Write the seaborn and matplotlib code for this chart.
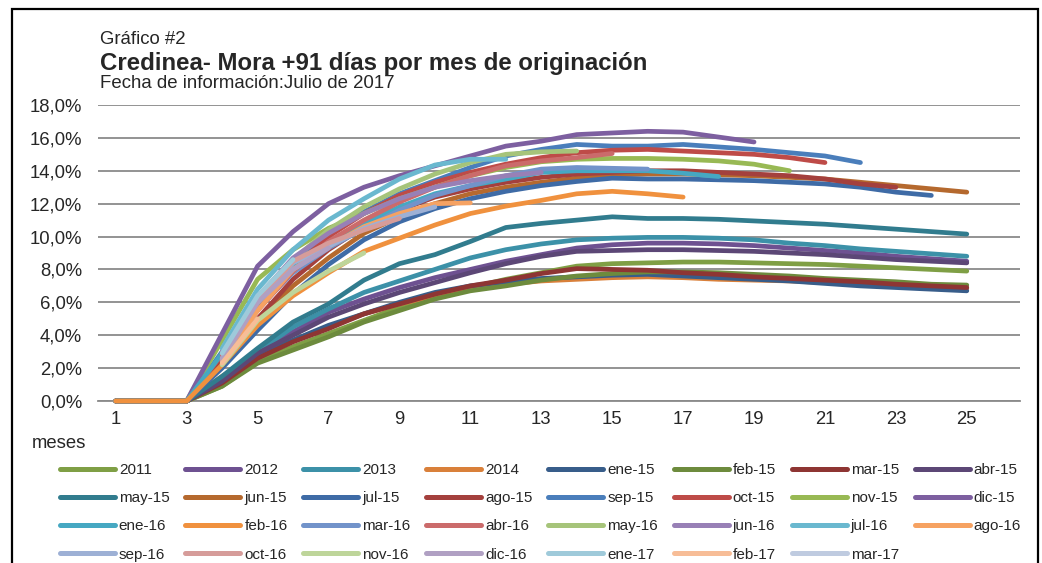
import pandas as pd
import matplotlib
matplotlib.use("Agg")
import matplotlib.pyplot as plt
from matplotlib.lines import Line2D
from matplotlib.patches import Rectangle
from matplotlib.ticker import FuncFormatter
import seaborn as sns

# meses desde la originacion (1..25)
months = list(range(1, 26))
z = [0, 0, 0]
na = [None, None, None]

# mora +91 dias (%) por cohorte
s2011 = z + [0.9, 2.4, 3.3, 4.1, 4.9, 5.7, 6.4, 6.9, 7.4, 7.8, 8.2, 8.35, 8.4, 8.45, 8.45, 8.4, 8.35, 8.3, 8.2, 8.1, 8.0, 7.9]
s2012 = z + [1.3, 3.0, 4.2, 5.4, 6.2, 6.9, 7.5, 8.0, 8.5, 8.9, 9.3, 9.5, 9.6, 9.6, 9.55, 9.45, 9.3, 9.15, 9.0, 8.8, 8.65, 8.5]
s2013 = z + [1.4, 3.0, 4.5, 5.6, 6.6, 7.3, 8.0, 8.7, 9.2, 9.55, 9.8, 9.9, 9.95, 9.95, 9.9, 9.8, 9.6, 9.45, 9.25, 9.1, 8.95, 8.8]
s2014 = z + [1.5, 2.8, 3.7, 4.5, 5.3, 5.9, 6.4, 6.8, 7.1, 7.3, 7.4, 7.5, 7.55, 7.5, 7.4, 7.35, 7.3, 7.2, 7.1, 7.0, 6.9, 6.85]
ene15 = z + [1.2, 2.7, 3.7, 4.6, 5.3, 6.0, 6.6, 7.0, 7.25, 7.45, 7.55, 7.65, 7.7, 7.6, 7.5, 7.4, 7.3, 7.15, 7.0, 6.9, 6.8, 6.7]
feb15 = z + [0.9, 2.3, 3.1, 3.9, 4.8, 5.5, 6.2, 6.7, 7.0, 7.35, 7.6, 7.75, 7.85, 7.85, 7.8, 7.7, 7.6, 7.45, 7.35, 7.25, 7.1, 7.05]
mar15 = z + [1.1, 2.6, 3.6, 4.4, 5.3, 5.9, 6.5, 7.0, 7.35, 7.75, 8.05, 8.0, 7.95, 7.8, 7.7, 7.55, 7.45, 7.35, 7.25, 7.1, 7.0, 6.9]
abr15 = z + [1.2, 2.9, 4.0, 5.1, 5.9, 6.6, 7.2, 7.8, 8.35, 8.8, 9.1, 9.15, 9.2, 9.2, 9.15, 9.1, 9.0, 8.9, 8.75, 8.6, 8.5, 8.4]
may15 = z + [1.5, 3.2, 4.8, 5.9, 7.35, 8.35, 8.9, 9.7, 10.55, 10.8, 11.0, 11.2, 11.1, 11.1, 11.05, 10.95, 10.85, 10.75, 10.6, 10.45, 10.3, 10.15]
jun15 = z + [2.3, 4.8, 7.0, 8.7, 10.2, 11.2, 12.0, 12.6, 13.0, 13.3, 13.55, 13.75, 13.8, 13.8, 13.75, 13.7, 13.6, 13.5, 13.3, 13.1, 12.9, 12.7]
jul15 = z + [2.0, 4.3, 6.5, 8.3, 9.8, 10.9, 11.7, 12.3, 12.75, 13.1, 13.35, 13.55, 13.5, 13.5, 13.45, 13.4, 13.3, 13.2, 13.0, 12.7, 12.5]
ago15 = z + [2.5, 5.0, 7.4, 9.2, 10.6, 11.6, 12.4, 12.9, 13.3, 13.6, 13.8, 13.9, 14.0, 14.0, 13.9, 13.8, 13.7, 13.5, 13.2, 13.0]
sep15 = z + [3.0, 6.2, 8.5, 10.2, 11.5, 12.6, 13.4, 14.2, 14.9, 15.3, 15.6, 15.5, 15.5, 15.6, 15.45, 15.3, 15.1, 14.9, 14.5]
oct15 = z + [2.8, 5.6, 8.1, 10.0, 11.4, 12.5, 13.3, 13.9, 14.4, 14.8, 15.1, 15.25, 15.3, 15.2, 15.1, 15.0, 14.8, 14.5]
nov15 = z + [3.7, 7.4, 9.2, 10.5, 11.4, 12.3, 13.0, 13.7, 14.2, 14.55, 14.7, 14.75, 14.75, 14.7, 14.6, 14.4, 14.0]
dic15 = z + [4.1, 8.2, 10.3, 12.0, 13.0, 13.7, 14.3, 14.9, 15.5, 15.8, 16.2, 16.3, 16.4, 16.35, 16.05, 15.75]
ene16 = z + [2.9, 5.8, 8.2, 9.6, 10.8, 11.8, 12.6, 13.1, 13.5, 13.9, 14.0, 14.0, 14.0, 13.85, 13.65]
feb16 = z + [2.2, 4.6, 6.4, 7.8, 9.1, 9.9, 10.7, 11.4, 11.85, 12.2, 12.6, 12.75, 12.6, 12.4]
mar16 = na + [2.8, 5.6, 7.8, 9.3, 10.5, 11.6, 12.5, 13.1, 13.7, 14.1, 14.2, 14.15, 14.1]
abr16 = na + [2.8, 5.5, 7.9, 9.7, 11.0, 12.1, 13.0, 13.7, 14.3, 14.6, 14.8, 15.05]
may16 = na + [3.0, 6.0, 8.6, 10.4, 11.8, 12.9, 13.8, 14.5, 15.0, 15.15, 15.2]
jun16 = na + [3.0, 6.3, 8.7, 10.2, 11.4, 12.3, 13.0, 13.4, 13.7, 13.9]
jul16 = na + [3.2, 6.8, 9.2, 11.0, 12.3, 13.5, 14.35, 14.7, 14.7]
ago16 = na + [2.5, 5.5, 8.0, 9.4, 10.6, 11.4, 12.0, 12.05]
sep16 = na + [2.4, 6.1, 8.4, 9.4, 10.5, 11.2, 11.8]
oct16 = na + [2.5, 6.0, 8.5, 9.6, 10.4, 11.1]
nov16 = na + [2.2, 4.9, 6.6, 7.9, 9.0]
dic16 = na + [2.6, 6.0, 8.0, 9.3]
ene17 = na + [2.9, 6.4, 8.6]
feb17 = na + [2.3, 5.0]
mar17 = na + [2.6]

series_names = ["2011", "2012", "2013", "2014", "ene-15", "feb-15", "mar-15", "abr-15",
                "may-15", "jun-15", "jul-15", "ago-15", "sep-15", "oct-15", "nov-15", "dic-15",
                "ene-16", "feb-16", "mar-16", "abr-16", "may-16", "jun-16", "jul-16", "ago-16",
                "sep-16", "oct-16", "nov-16", "dic-16", "ene-17", "feb-17", "mar-17"]
series_values = [s2011, s2012, s2013, s2014, ene15, feb15, mar15, abr15,
                 may15, jun15, jul15, ago15, sep15, oct15, nov15, dic15,
                 ene16, feb16, mar16, abr16, may16, jun16, jul16, ago16,
                 sep16, oct16, nov16, dic16, ene17, feb17, mar17]
series_colors = ["#7F9F45", "#6E5191", "#3C91A8", "#D9803A", "#385D8A", "#6D8B3D", "#8E3533", "#5C4776",
                 "#317C8E", "#B5692E", "#3E6BA6", "#A4403D", "#4A7EBB", "#BE4B48", "#98B954", "#7D5FA0",
                 "#46A8C2", "#F0913E", "#7293CA", "#CB6B6B", "#A6C47A", "#9880B6", "#6AB8CF", "#F6A262",
                 "#9DB0D5", "#D69C9A", "#BED59A", "#B0A0C3", "#9FCADA", "#F7BD97", "#BFCBE0"]

GRAY = "#8A8A8A"


def build_frame():
    rows = []
    for name, vals in zip(series_names, series_values):
        for m, v in zip(months, vals):
            if v is not None:
                rows.append({"serie": name, "mes": m, "mora": v})
    return pd.DataFrame(rows)


def draw(df):
    sns.set_style("white")
    plt.rcParams["font.family"] = ["Liberation Sans", "DejaVu Sans"]

    fig = plt.figure(figsize=(10.42, 5.63), dpi=100)
    ax = fig.add_axes([98 / 1042, 1 - 401 / 563, 922 / 1042, 296 / 563])

    palette = dict(zip(series_names, series_colors))
    sns.lineplot(data=df, x="mes", y="mora", hue="serie", hue_order=series_names,
                 palette=palette, estimator=None, sort=True, legend=False,
                 linewidth=3.4, solid_capstyle="round", solid_joinstyle="round", ax=ax)
    for line in ax.get_lines():
        line.set_clip_on(False)
        line.set_zorder(3)

    ax.set_xlim(0.5, 26.5)
    ax.set_ylim(0, 18)
    ax.set_xlabel("")
    ax.set_ylabel("")

    # eje y: 0,0% .. 18,0%
    ax.set_yticks(range(0, 19, 2))
    ax.yaxis.set_major_formatter(FuncFormatter(lambda v, p: f"{v:.1f}".replace(".", ",") + "%"))
    ax.yaxis.grid(True, color=GRAY, linewidth=1.3)
    ax.set_axisbelow(True)
    ax.tick_params(axis="y", length=0, pad=11.5, labelsize=13.3)

    # eje x: marcas entre categorias, etiquetas en meses impares
    ax.set_xticks([b + 0.5 for b in range(0, 27)])
    ax.set_xticklabels([])
    ax.set_xticks(list(range(1, 26, 2)), minor=True)
    ax.set_xticklabels([str(m) for m in range(1, 26, 2)], minor=True)
    ax.tick_params(axis="x", which="major", length=5, width=1.3, color=GRAY, direction="out")
    ax.tick_params(axis="x", which="minor", length=0, pad=7.5, labelsize=13.3)

    for side in ["left", "top", "right"]:
        ax.spines[side].set_visible(False)
    ax.spines["bottom"].set_color(GRAY)
    ax.spines["bottom"].set_linewidth(1.3)
    ax.spines["bottom"].set_zorder(1)

    # titulos
    x0 = 100 / 1042
    fig.text(x0, 1 - 43.5 / 563, "Gráfico #2", fontsize=13.4, va="baseline")
    fig.text(x0, 1 - 70 / 563, "Credinea- Mora +91 días por mes de originación",
             fontsize=17.3, fontweight="bold", va="baseline")
    fig.text(x0, 1 - 88.5 / 563, "Fecha de información:Julio de 2017", fontsize=13.4, va="baseline")
    fig.text(32 / 1042, 1 - 448 / 563, "meses", fontsize=13.3, va="baseline")

    # leyenda, llenada por filas como en Excel
    ncol = 8
    n = len(series_names)
    order = []
    for j in range(ncol):
        i = 0
        while i * ncol + j < n:
            order.append(i * ncol + j)
            i += 1
    handles = [Line2D([0], [0], color=series_colors[k], lw=3.6, solid_capstyle="round") for k in order]
    labels = [series_names[k] for k in order]
    fig.legend(handles, labels, ncol=ncol, loc="upper left",
               bbox_to_anchor=(60 / 1042, 1 - 463 / 563), frameon=False, fontsize=11,
               handlelength=3.6, handletextpad=0.25, columnspacing=1.04, labelspacing=0.93,
               borderpad=0, borderaxespad=0)

    # marco exterior
    fig.add_artist(Rectangle((12 / 1042, -0.05), 1026 / 1042, 1.05 - 9 / 563,
                             transform=fig.transFigure, fill=False, edgecolor="black",
                             linewidth=1.6, clip_on=False))

    fig.savefig("out.png", dpi=100)


if __name__ == "__main__":
    df = build_frame()
    draw(df)
